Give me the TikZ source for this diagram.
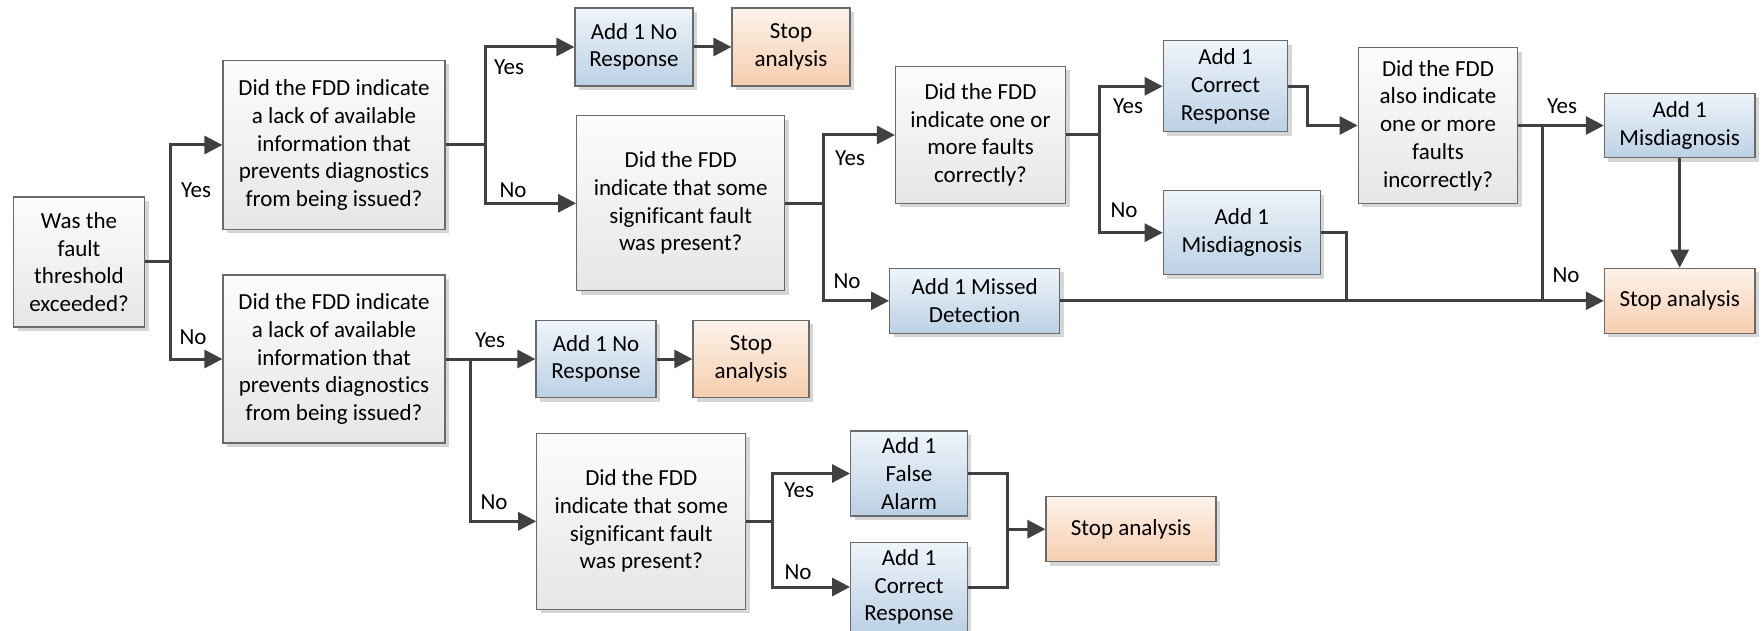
\documentclass[tikz,border=0pt]{standalone}
\usepackage{fontspec}
\setmainfont{Carlito}[Ligatures={NoCommon}]
\usetikzlibrary{arrows.meta,shadows}

\definecolor{linegray}{HTML}{404040}
\definecolor{edgegray}{HTML}{6A6A6A}
\definecolor{qtop}{HTML}{FCFCFC}
\definecolor{qbot}{HTML}{E6E6E6}
\definecolor{btop}{HTML}{EEF4FA}
\definecolor{bbot}{HTML}{BCD1E5}
\definecolor{otop}{HTML}{FDF3EA}
\definecolor{obot}{HTML}{F6CDAE}

\tikzset{
  txt/.style={font=\fontsize{23}{27.7}\selectfont},
  box/.style={txt, draw=edgegray, line width=1.2pt, align=center, inner sep=0pt,
    drop shadow={shadow xshift=4pt, shadow yshift=-4pt, fill=black, opacity=0.16}},
  question/.style={box, top color=qtop, bottom color=qbot},
  action/.style={box, top color=btop, bottom color=bbot},
  stopbox/.style={box, top color=otop, bottom color=obot},
  flow/.style={draw=linegray, line width=3pt},
  arr/.style={flow, -{Triangle[length=18pt,width=18pt]}},
  lbl/.style={txt, inner sep=0pt},
}

\begin{document}
\begin{tikzpicture}[x=1pt, y=-1pt]
\useasboundingbox (0,0) rectangle (1762,631);

% decision and result boxes
\node[question, minimum width=131pt, minimum height=130pt] (A) at (79,262)
  {Was the\\fault\\threshold\\exceeded?};
\node[question, minimum width=222pt, minimum height=169pt] (B1) at (334,145)
  {Did the FDD indicate\\a lack of available\\information that\\prevents diagnostics\\from being issued?};
\node[question, minimum width=222pt, minimum height=168pt] (B2) at (334,359)
  {Did the FDD indicate\\a lack of available\\information that\\prevents diagnostics\\from being issued?};

\node[action, minimum width=118pt, minimum height=78pt] (C1) at (634,47) {Add 1 No\\Response};
\node[stopbox, minimum width=118pt, minimum height=78pt] (S1) at (791,47) {Stop\\analysis};
\node[question, minimum width=208pt, minimum height=175pt] (C2) at (680.7,203.3)
  {Did the FDD\\indicate that some\\significant fault\\was present?};

\node[question, minimum width=170pt, minimum height=137pt] (D1) at (980.5,135)
  {Did the FDD\\indicate one or\\more faults\\correctly?};
\node[action, minimum width=170pt, minimum height=65pt] (D2) at (974.6,300.8) {Add 1 Missed\\Detection};

\node[action, minimum width=124.5pt, minimum height=91pt] (E1) at (1225.5,86.3) {Add 1\\Correct\\Response};
\node[action, minimum width=157pt, minimum height=84pt] (E2) at (1241.8,232.7) {Add 1\\Misdiagnosis};

\node[question, minimum width=159.6pt, minimum height=155.6pt] (F) at (1438,125.5)
  {Did the FDD\\also indicate\\one or more\\faults\\incorrectly?};

\node[action, minimum width=150.6pt, minimum height=64.6pt] (G1) at (1679.7,125.5) {Add 1\\Misdiagnosis};
\node[stopbox, minimum width=150.6pt, minimum height=65pt] (G2) at (1679.7,300.8) {Stop analysis};

\node[action, minimum width=120pt, minimum height=77.3pt] (C3) at (596,359) {Add 1 No\\Response};
\node[stopbox, minimum width=116pt, minimum height=77.3pt] (S3) at (751,359) {Stop\\analysis};
\node[question, minimum width=209pt, minimum height=176pt] (C4) at (641.3,521.3)
  {Did the FDD\\indicate that some\\significant fault\\was present?};

\node[action, minimum width=116.7pt, minimum height=85pt] (H1) at (909,473.5) {Add 1\\False\\Alarm};
\node[action, minimum width=116.7pt, minimum height=88.6pt] (H2) at (909,587) {Add 1\\Correct\\Response};
\node[stopbox, minimum width=170pt, minimum height=65pt] (I) at (1131,529.2) {Stop analysis};

% branch points
\coordinate (jA) at (170,262);
\coordinate (jB1) at (485,145);
\coordinate (jC2) at (823.6,203.3);
\coordinate (jD1) at (1099,135);
\coordinate (kE1) at (1307,86.3);
\coordinate (jF) at (1542,125.5);
\coordinate (jFd) at (1542,300.8);
\coordinate (kE2) at (1346,300.8);
\coordinate (jB2) at (470.7,359);
\coordinate (jC4) at (772.6,521.3);
\coordinate (mH) at (1007,529.2);

% connectors
\draw[flow] (A.east) -- (jA);
\draw[arr] (jA) |- (B1);
\draw[arr] (jA) |- (B2);

\draw[flow] (B1.east) -- (jB1);
\draw[arr] (jB1) |- (C1);
\draw[arr] (jB1) |- (C2);
\draw[arr] (C1) -- (S1);

\draw[flow] (C2.east) -- (jC2);
\draw[arr] (jC2) |- (D1);
\draw[arr] (jC2) |- (D2);

\draw[flow] (D1.east) -- (jD1);
\draw[arr] (jD1) |- (E1);
\draw[arr] (jD1) |- (E2);

\draw[arr] (E1.east) -- (kE1) |- (F);
\draw[arr] (F) -- (G1);
\draw[flow] (jF) -- (jFd);
\draw[flow] (E2.east) -| (kE2);
\draw[arr] (D2) -- (G2);
\draw[arr] (G1) -- (G2);

\draw[flow] (B2.east) -- (jB2);
\draw[arr] (jB2) |- (C3);
\draw[arr] (jB2) |- (C4);
\draw[arr] (C3) -- (S3);

\draw[flow] (C4.east) -- (jC4);
\draw[arr] (jC4) |- (H1);
\draw[arr] (jC4) |- (H2);
\draw[flow] (H1.east) -| (mH);
\draw[flow] (H2.east) -| (mH);
\draw[arr] (mH) -- (I);

% branch labels
\node[lbl] (yA) at (196,190) {Yes};
\node[lbl] (nA) at (193,337) {No};
\node[lbl] (yB1) at (509,67) {Yes};
\node[lbl] (nB1) at (513,190) {No};
\node[lbl] (yC2) at (850,158) {Yes};
\node[lbl] (nC2) at (847,281) {No};
\node[lbl] (yD1) at (1128,106) {Yes};
\node[lbl] (nD1) at (1124,210) {No};
\node[lbl] (yF) at (1562,106) {Yes};
\node[lbl] (nF) at (1566,275) {No};
\node[lbl] (yB2) at (490,340) {Yes};
\node[lbl] (nB2) at (494,502) {No};
\node[lbl] (yC4) at (799,490) {Yes};
\node[lbl] (nC4) at (798,572) {No};
\end{tikzpicture}
\end{document}
